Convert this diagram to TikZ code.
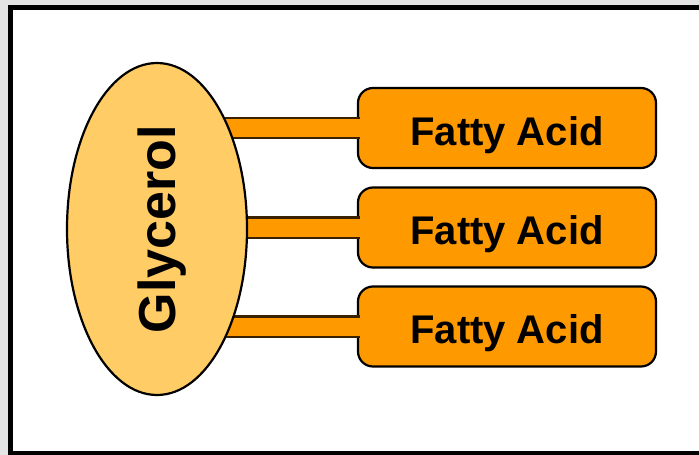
\documentclass[tikz,border=0pt]{standalone}
\usepackage{fontspec}
\setmainfont{Liberation Sans}
\usetikzlibrary{shapes.geometric}
\pgfdeclarelayer{fg}
\pgfsetlayers{main,fg}
\definecolor{bggray}{HTML}{E4E4E4}
\definecolor{glyfill}{HTML}{FFCC66}
\definecolor{fafill}{HTML}{FF9900}
\definecolor{bardark}{HTML}{3A2200}
\tikzset{
  glybox/.style={ellipse, draw=black, line width=2.2pt, fill=glyfill,
    minimum width=180pt, minimum height=332pt, inner sep=0pt},
  fabox/.style={rectangle, rounded corners=15pt, draw=black, line width=2.2pt,
    fill=fafill, minimum width=298pt, minimum height=80pt, inner sep=0pt,
    text height=34pt, text depth=0pt,
    font=\fontsize{40}{40}\selectfont\bfseries},
  bar/.style={draw=bardark, line width=2.2pt, double=fafill, double distance=18pt},
  frame/.style={draw=black, line width=5pt, fill=white}
}
\begin{document}
\begin{tikzpicture}[x=1pt,y=-1pt]
\useasboundingbox (0,0) rectangle (699,455);
\fill[bggray] (0,0) rectangle (699,455);
\draw[frame] (10.5,7.5) rectangle (710,453.5);
\node[fabox] (fa1) at (507,128) {Fatty Acid};
\node[fabox] (fa2) at (507,227.5) {Fatty Acid};
\node[fabox] (fa3) at (507,326.5) {Fatty Acid};
\begin{pgfonlayer}{fg}
\node[glybox] (gly) at (157,229) {};
\node[rotate=90, font=\fontsize{52}{52}\selectfont\bfseries] (glytext) at ([xshift=5pt]gly.center) {Glycerol};
\end{pgfonlayer}
\draw[bar] (gly.center |- fa1.west) -- ([xshift=3pt]fa1.west);
\draw[bar] (gly.center |- fa2.west) -- ([xshift=3pt]fa2.west);
\draw[bar] (gly.center |- fa3.west) -- ([xshift=3pt]fa3.west);
\end{tikzpicture}
\end{document}
